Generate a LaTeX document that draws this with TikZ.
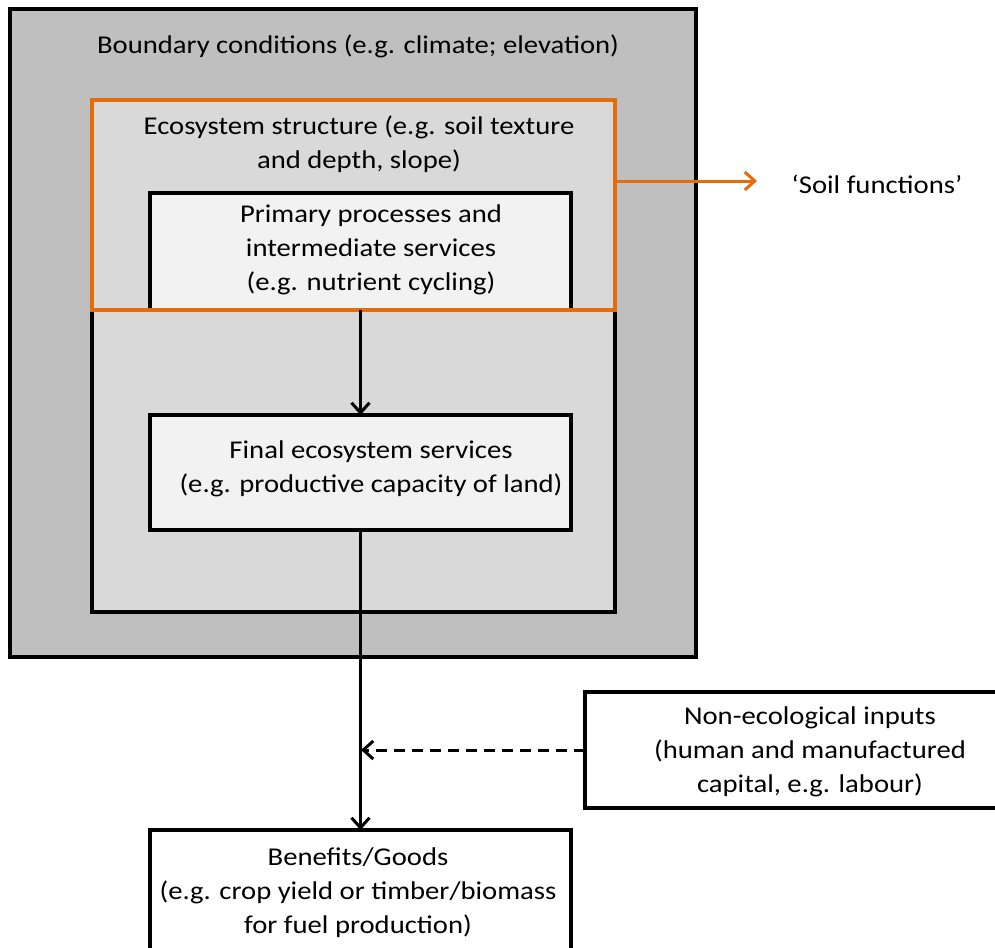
\documentclass[tikz,border=0pt]{standalone}
\usepackage{fontspec}
\setmainfont{Carlito}[FakeStretch=1.12]
\usetikzlibrary{arrows.meta}
\definecolor{outerfill}{HTML}{BFBFBF}
\definecolor{ecofill}{HTML}{D9D9D9}
\definecolor{innerfill}{HTML}{F2F2F2}
\definecolor{soilorange}{HTML}{E46C0A}
\begin{document}
\begin{tikzpicture}[x=1pt,y=-1pt,
  box/.style={draw=black, line width=3.6pt, inner sep=0pt, outer sep=0pt, anchor=north west},
  txt/.style={align=center, inner sep=0pt, font=\fontsize{25.6}{34}\selectfont},
  arr/.style={line width=3pt, -{Straight Barb[length=10pt,width=18pt,line width=3pt]}}
]
\useasboundingbox (0,0) rectangle (995,947);
\clip (0,0) rectangle (995,947);
\fill[white] (0,0) rectangle (995,947);
% boxes
\node[box, fill=outerfill, minimum width=686pt, minimum height=648pt] (outer) at (10,9) {};
\node[box, fill=ecofill, minimum width=523pt, minimum height=512pt] (eco) at (92,100) {};
\node[box, fill=innerfill, minimum width=421pt, minimum height=117pt] (prim) at (150,193) {};
\node[box, fill=innerfill, minimum width=421pt, minimum height=115pt] (final) at (150,415) {};
\node[box, fill=white, minimum width=421pt, minimum height=140pt] (ben) at (150,830) {};
\node[box, fill=white, minimum width=430pt, minimum height=116pt] (nonec) at (585,692) {};
\node[box, draw=soilorange, minimum width=523pt, minimum height=210pt] (soil) at (92,100) {};
% texts
\node[txt] (tbound) at (358,46) {Boundary conditions (e.g. climate; elevation)};
\node[txt] (teco) at (359,144) {Ecosystem structure (e.g. soil texture\\and depth, slope)};
\node[txt] (tprim) at (371,250) {Primary processes and\\intermediate services\\(e.g. nutrient cycling)};
\node[txt] (tfinal) at (371,469) {Final ecosystem services\\(e.g. productive capacity of land)};
\node[txt] (tben) at (358,893) {Benefits/Goods\\(e.g. crop yield or timber/biomass\\for fuel production)};
\node[txt] (tnonec) at (810,752) {Non-ecological inputs\\(human and manufactured\\capital, e.g. labour)};
\node[txt] (tsoil) at (877,184) {‘Soil functions’};
% connectors
\coordinate (soilend) at (757,181);
\coordinate (merge) at (361,750);
\draw[arr] (prim.south) -- (final.north);
\draw[arr] (final.south) -- (ben.north);
\draw[arr, dashed, dash pattern=on 11pt off 7pt] (nonec.west |- merge) -- (merge);
\draw[arr, draw=soilorange] (soil.east |- soilend) -- (soilend);
\end{tikzpicture}
\end{document}
